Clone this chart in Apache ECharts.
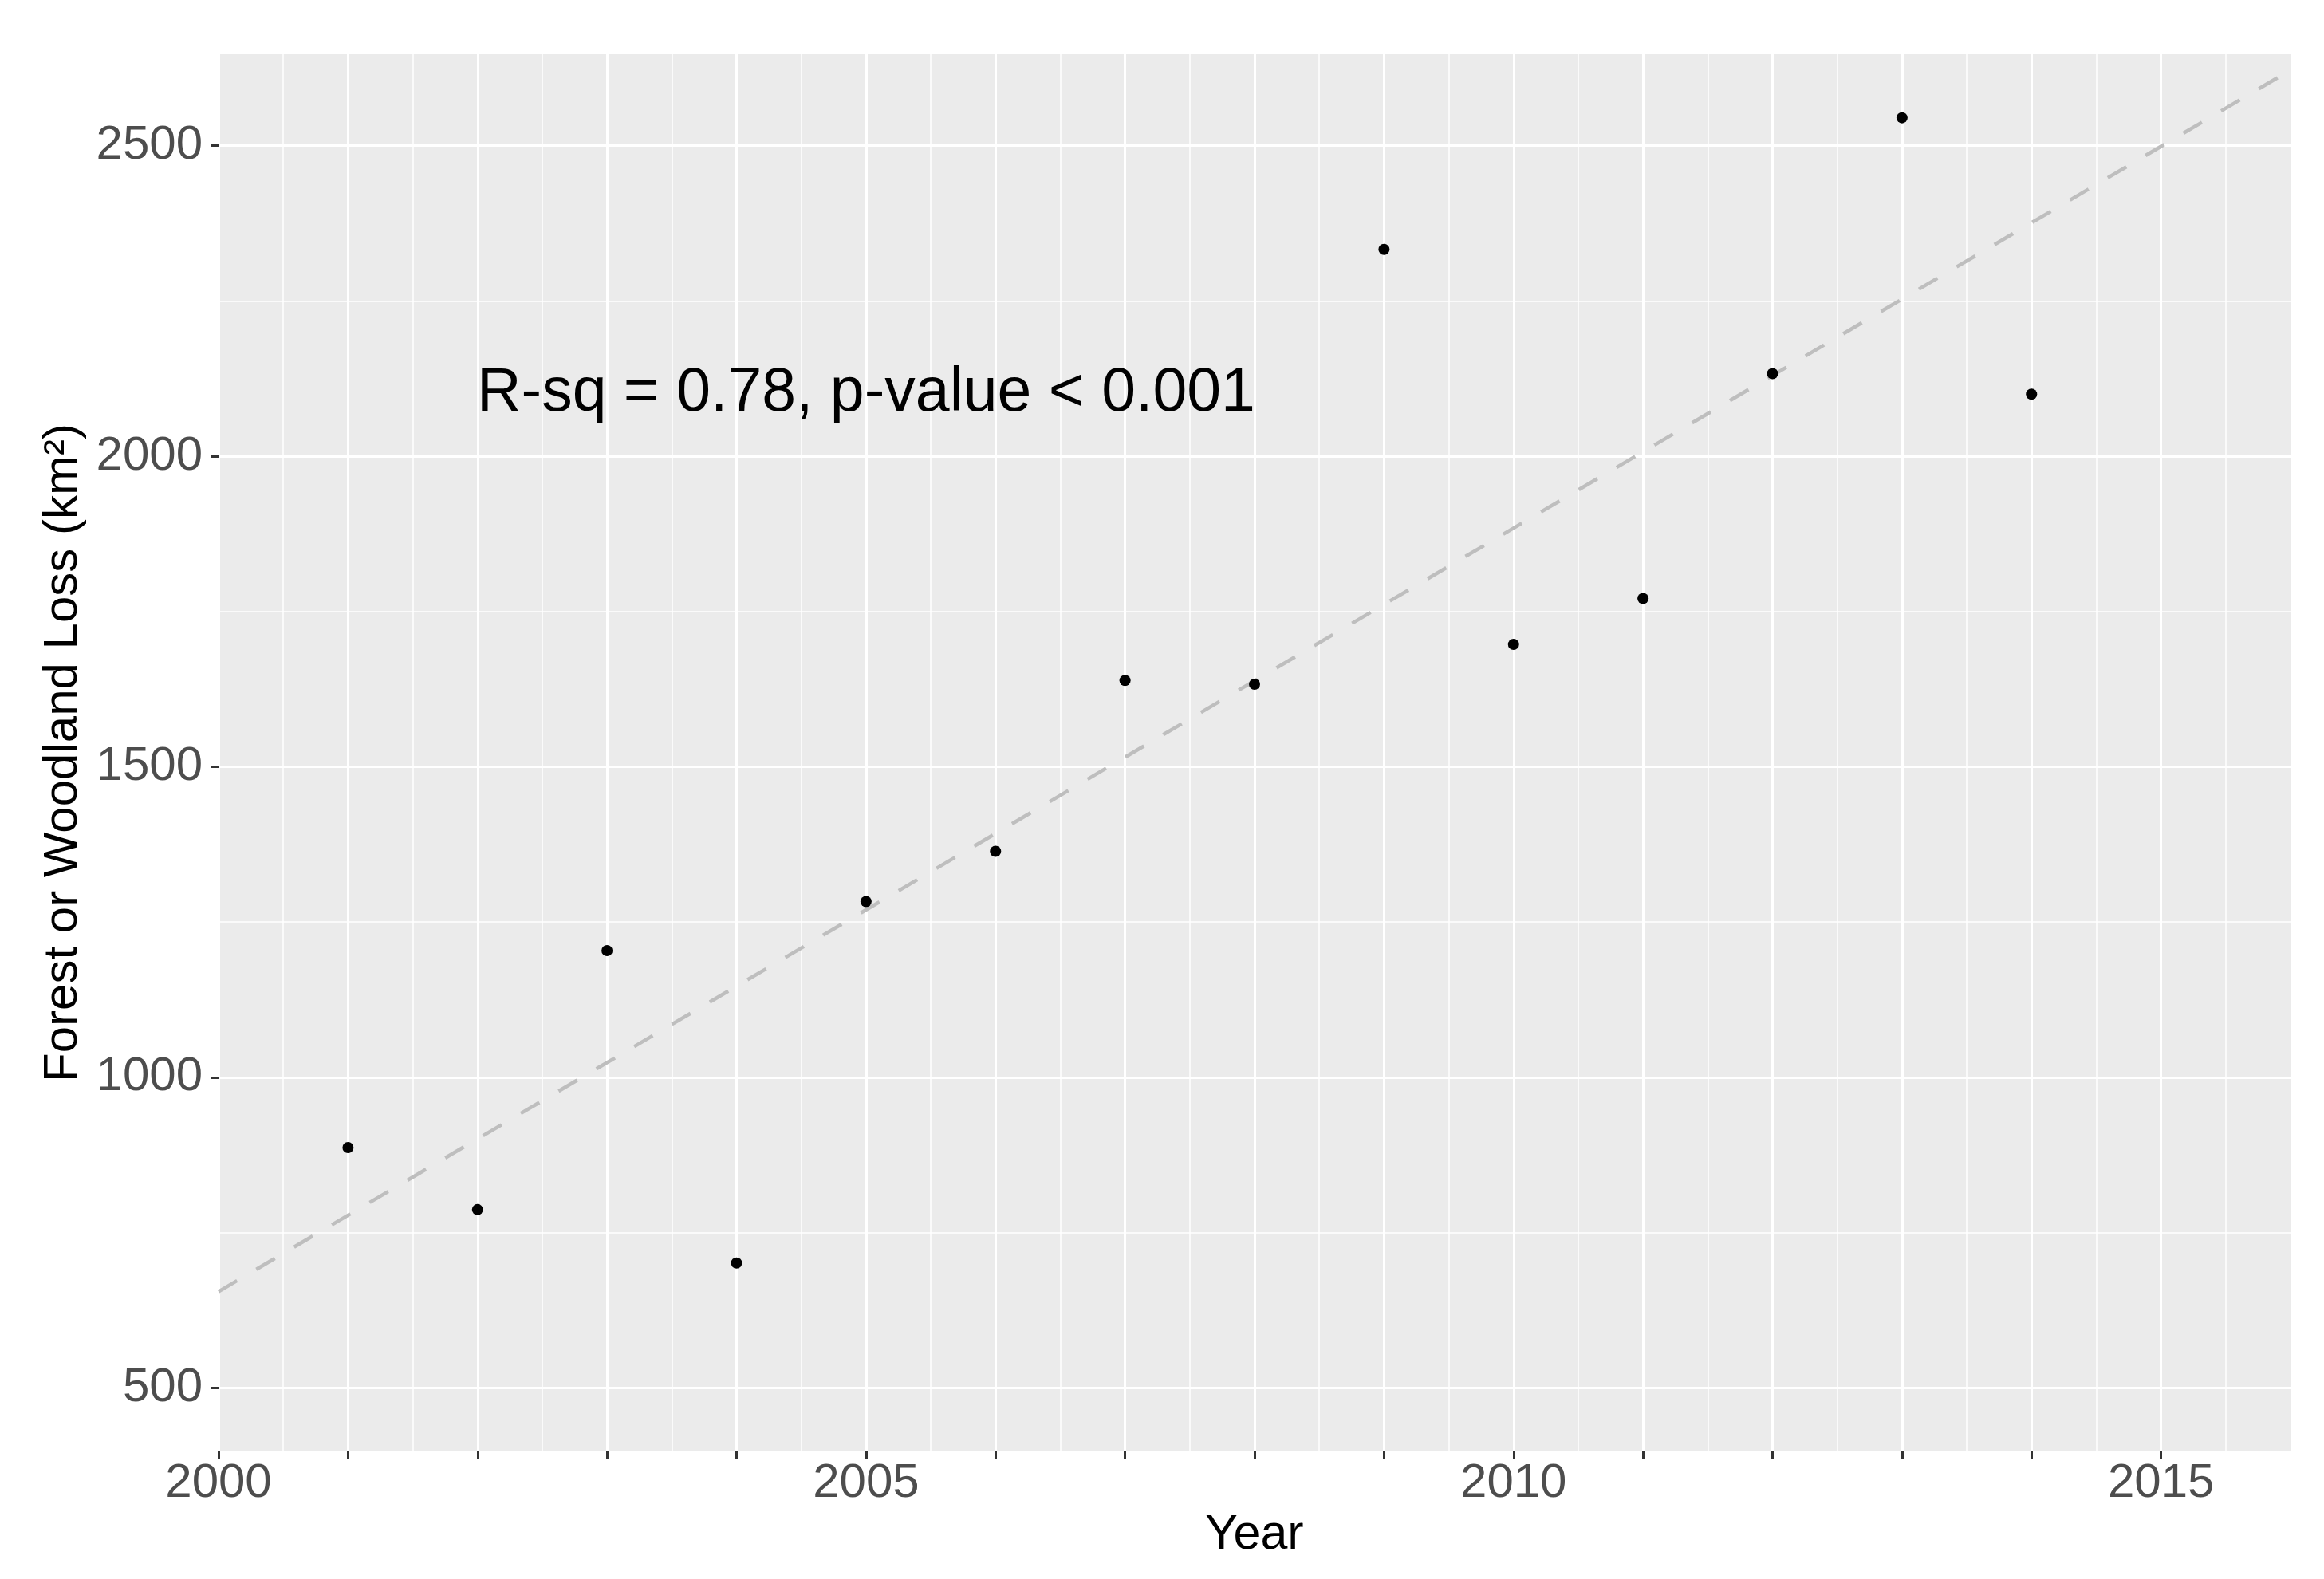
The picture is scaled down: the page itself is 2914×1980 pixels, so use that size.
<!DOCTYPE html>
<html>
<head>
<meta charset="utf-8">
<script src="https://cdn.jsdelivr.net/npm/echarts@6/dist/echarts.min.js"></script>
<style>
html,body{margin:0;padding:0;background:#ffffff;}
#chart{width:2914px;height:1980px;}
</style>
</head>
<body>
<div id="chart"></div>
<script>
// ---- data ----
const years = [2001, 2002, 2003, 2004, 2005, 2006, 2007, 2008, 2009, 2010, 2011, 2012, 2013, 2014];
const loss  = [887, 787, 1204, 701, 1283, 1364, 1639, 1633, 2333, 1697, 1771, 2133, 2545, 2100];
const xRange = [2000, 2016];
const xTickYears = [2000, 2001, 2002, 2003, 2004, 2005, 2006, 2007, 2008, 2009, 2010, 2011, 2012, 2013, 2014, 2015];
const xLabelYears = [2000, 2005, 2010, 2015];
const yTicks = [500, 1000, 1500, 2000, 2500];
const yMinorTicks = [750, 1250, 1750, 2250];
const yLimitLow = 500;
const annotationPos = [2005, 2100];
const annotationText = 'R-sq = 0.78, p-value < 0.001';

// ---- derived ----
const n = years.length;
const mx = years.reduce((s, v) => s + v, 0) / n;
const my = loss.reduce((s, v) => s + v, 0) / n;
let sxy = 0, sxx = 0;
for (let i = 0; i < n; i++) { sxy += (years[i] - mx) * (loss[i] - my); sxx += (years[i] - mx) * (years[i] - mx); }
const slope = sxy / sxx;
const intercept = my - slope * mx;
const fitLine = xRange.map(x => [x, intercept + slope * x]);

const lo = Math.min(yLimitLow, Math.min(...loss));
const hi = Math.max(...loss);
const pad = 0.05 * (hi - lo);
const yMin = lo - pad, yMax = hi + pad;

const points = years.map((y, i) => [y, loss[i]]);

const FONT = 'Liberation Sans, Arial, sans-serif';

const chart = echarts.init(document.getElementById('chart'), null, {renderer: 'canvas'});
chart.setOption({
  animation: false,
  backgroundColor: '#ffffff',
  grid: {
    left: 274, right: 42, top: 68, bottom: 160,
    show: true, backgroundColor: '#EBEBEB', borderWidth: 0,
    containLabel: false, outerBoundsMode: 'none'
  },
  xAxis: {
    type: 'value', min: xRange[0], max: xRange[1], interval: 1,
    name: 'Year', nameLocation: 'middle', nameGap: 71,
    nameTextStyle: {fontFamily: FONT, fontSize: 61, color: '#000000'},
    axisLine: {show: false},
    axisTick: {show: true, length: 9, customValues: xTickYears, lineStyle: {color: '#333333', width: 3}},
    axisLabel: {
      show: true, margin: 10, fontFamily: FONT, fontSize: 60, color: '#4D4D4D',
      customValues: xLabelYears,
      formatter: v => String(v)
    },
    splitLine: {show: true, lineStyle: {color: '#FFFFFF', width: 3}},
    minorTick: {show: false, splitNumber: 2},
    minorSplitLine: {show: true, lineStyle: {color: '#FFFFFF', width: 1.5}}
  },
  yAxis: [{
    type: 'value', min: yMin, max: yMax,
    name: 'Forest or Woodland Loss (km\u00B2)', nameLocation: 'middle', nameGap: 164, nameRotate: 90,
    nameTextStyle: {fontFamily: FONT, fontSize: 60, color: '#000000'},
    axisLine: {show: false},
    axisTick: {show: true, length: 9, customValues: yTicks, lineStyle: {color: '#333333', width: 3}},
    axisLabel: {show: true, margin: 20, customValues: yTicks, fontFamily: FONT, fontSize: 60, color: '#4D4D4D',
                formatter: v => String(v)},
    splitLine: {show: true, lineStyle: {color: '#FFFFFF', width: 3}}
  }, {
    type: 'value', min: yMin, max: yMax, position: 'left',
    axisLine: {show: false},
    axisTick: {show: false, customValues: yMinorTicks},
    axisLabel: {show: false, customValues: yMinorTicks},
    splitLine: {show: true, lineStyle: {color: '#FFFFFF', width: 1.5}}
  }],
  series: [{
    type: 'line', data: fitLine, yAxisIndex: 0, symbol: 'none', z: 2,
    lineStyle: {color: '#BEBEBE', width: 4.5, type: [27, 28]},
    silent: true
  }, {
    type: 'scatter', data: points, yAxisIndex: 0, symbol: 'circle', symbolSize: 14, z: 3,
    itemStyle: {color: '#000000', opacity: 1}
  }, {
    type: 'scatter', data: [annotationPos], yAxisIndex: 0, symbolSize: 1, z: 4,
    itemStyle: {color: 'rgba(0,0,0,0)'},
    label: {show: true, position: 'inside', formatter: annotationText,
            fontFamily: FONT, fontSize: 77, color: '#000000', opacity: 1}
  }]
});
</script>
</body>
</html>
